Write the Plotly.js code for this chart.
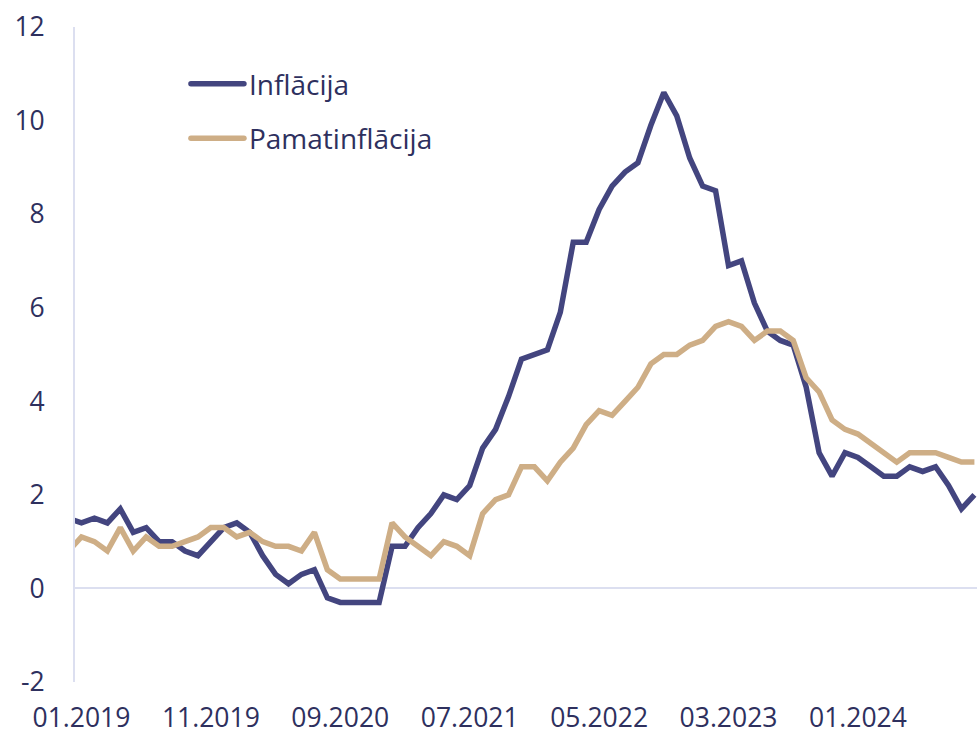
<!DOCTYPE html>
<html>
<head>
<meta charset="utf-8">
<script src="https://cdn.plot.ly/plotly-3.0.1.min.js"></script>
<style>
  html, body { margin: 0; padding: 0; background: #ffffff; }
  #chart { width: 977px; height: 737px; }
  .legend .js-line { stroke-linecap: round; }
</style>
</head>
<body>
<div id="chart"></div>
<script>
const months = [
  "12.2018",
  "01.2019","02.2019","03.2019","04.2019","05.2019","06.2019","07.2019","08.2019","09.2019","10.2019","11.2019","12.2019",
  "01.2020","02.2020","03.2020","04.2020","05.2020","06.2020","07.2020","08.2020","09.2020","10.2020","11.2020","12.2020",
  "01.2021","02.2021","03.2021","04.2021","05.2021","06.2021","07.2021","08.2021","09.2021","10.2021","11.2021","12.2021",
  "01.2022","02.2022","03.2022","04.2022","05.2022","06.2022","07.2022","08.2022","09.2022","10.2022","11.2022","12.2022",
  "01.2023","02.2023","03.2023","04.2023","05.2023","06.2023","07.2023","08.2023","09.2023","10.2023","11.2023","12.2023",
  "01.2024","02.2024","03.2024","04.2024","05.2024","06.2024","07.2024","08.2024","09.2024","10.2024"
];

const inflacija = [
  1.5,
  1.4, 1.5, 1.4, 1.7, 1.2, 1.3, 1.0, 1.0, 0.8, 0.7, 1.0, 1.3,
  1.4, 1.2, 0.7, 0.3, 0.1, 0.3, 0.4, -0.2, -0.3, -0.3, -0.3, -0.3,
  0.9, 0.9, 1.3, 1.6, 2.0, 1.9, 2.2, 3.0, 3.4, 4.1, 4.9, 5.0,
  5.1, 5.9, 7.4, 7.4, 8.1, 8.6, 8.9, 9.1, 9.9, 10.6, 10.1, 9.2,
  8.6, 8.5, 6.9, 7.0, 6.1, 5.5, 5.3, 5.2, 4.3, 2.9, 2.4, 2.9,
  2.8, 2.6, 2.4, 2.4, 2.6, 2.5, 2.6, 2.2, 1.7, 2.0
];

const pamatinflacija = [
  0.8,
  1.1, 1.0, 0.8, 1.3, 0.8, 1.1, 0.9, 0.9, 1.0, 1.1, 1.3, 1.3,
  1.1, 1.2, 1.0, 0.9, 0.9, 0.8, 1.2, 0.4, 0.2, 0.2, 0.2, 0.2,
  1.4, 1.1, 0.9, 0.7, 1.0, 0.9, 0.7, 1.6, 1.9, 2.0, 2.6, 2.6,
  2.3, 2.7, 3.0, 3.5, 3.8, 3.7, 4.0, 4.3, 4.8, 5.0, 5.0, 5.2,
  5.3, 5.6, 5.7, 5.6, 5.3, 5.5, 5.5, 5.3, 4.5, 4.2, 3.6, 3.4,
  3.3, 3.1, 2.9, 2.7, 2.9, 2.9, 2.9, 2.8, 2.7, 2.7
];

const xTickLabels = ["01.2019","11.2019","09.2020","07.2021","05.2022","03.2023","01.2024"];
const yTickValues = [-2, 0, 2, 4, 6, 8, 10, 12];
const yTickLabels = ["-2", "0", "2", "4", "6", "8", "10", "12"];

const seriesNames = ["Inflācija", "Pamatinflācija"];
const colors = ["#43457f", "#ceae86"];
const textColor = "#2e305e";
const axisColor = "#dcdff0";

const traces = [
  {
    x: months, y: inflacija, name: seriesNames[0], type: "scatter", mode: "lines",
    line: { color: colors[0], width: 5.5 }, legendgroup: "a"
  },
  {
    x: months, y: pamatinflacija, name: seriesNames[1], type: "scatter", mode: "lines",
    line: { color: colors[1], width: 5.5 }, legendgroup: "b"
  }
];

const layout = {
  width: 977, height: 737,
  margin: { l: 75, r: 0, t: 27, b: 55, pad: 0 },
  paper_bgcolor: "#ffffff", plot_bgcolor: "#ffffff",
  font: { family: "'Open Sans', 'Noto Sans', sans-serif", size: 26, color: textColor },
  showlegend: true,
  legend: {
    x: 0.123, y: 0.951, xanchor: "left", yanchor: "top",
    bgcolor: "rgba(0,0,0,0)", borderwidth: 0,
    font: { size: 28, color: textColor },
    itemwidth: 53,
    traceorder: "grouped", tracegroupgap: 15
  },
  xaxis: {
    type: "category",
    range: [0.5, 70.2],
    tickmode: "array", tickvals: xTickLabels, ticktext: xTickLabels,
    showgrid: false, zeroline: false, showline: false, ticks: "",
    tickfont: { size: 26.5, color: textColor },
    ticklabelstandoff: 17,
    fixedrange: true
  },
  yaxis: {
    range: [-2, 12],
    tickmode: "array", tickvals: yTickValues, ticktext: yTickLabels,
    showgrid: false,
    zeroline: true, zerolinecolor: axisColor, zerolinewidth: 2,
    showline: true, linecolor: axisColor, linewidth: 2,
    ticks: "",
    tickfont: { size: 26.5, color: textColor },
    ticklabelstandoff: 23,
    fixedrange: true
  }
};

Plotly.newPlot("chart", traces, layout, { displayModeBar: false, staticPlot: true }).then(function (gd) {
  gd.querySelectorAll(".legend .js-line").forEach(function (p) {
    p.setAttribute("d", "M5,0h53");
  });
});
</script>
</body>
</html>
